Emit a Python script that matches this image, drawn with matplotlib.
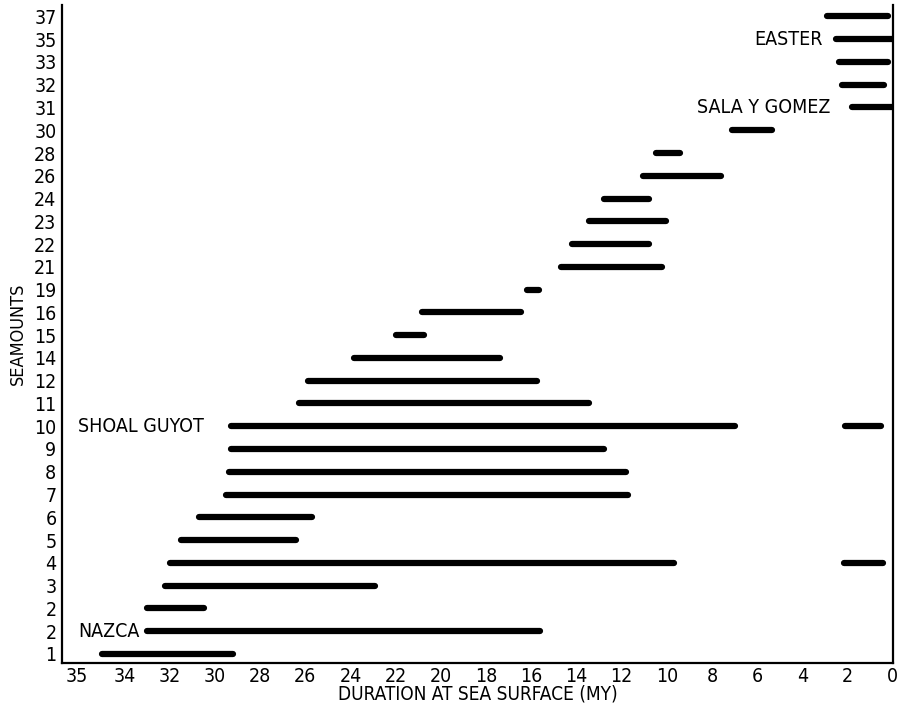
import matplotlib

matplotlib.use("Agg")
import matplotlib.pyplot as plt
import numpy as np

# seamount rows, bottom to top
SEAMOUNTS = ["1", "2", "2", "3", "4", "5", "6", "7", "8", "9", "10", "11", "12",
             "14", "15", "16", "19", "21", "22", "23", "24", "26", "28", "30",
             "31", "32", "33", "35", "37"]
START_MY = [35.0, 33.0, 33.0, 32.2, 32.0, 31.5, 30.7, 29.5, 29.4, 29.3, 29.3,
            26.3, 25.9, 23.85, 22.0, 20.85, 16.2, 14.7, 14.2, 13.45, 12.8,
            11.05, 10.5, 7.1, 1.8, 2.25, 2.4, 2.5, 2.9]
END_MY = [29.2, 15.6, 30.5, 22.9, 9.7, 26.4, 25.7, 11.7, 11.8, 12.8, 7.0,
          13.45, 15.75, 17.4, 20.75, 16.45, 15.65, 10.2, 10.8, 10.05, 10.8,
          7.6, 9.4, 5.35, 0.0, 0.4, 0.2, 0.0, 0.2]

# second episodes (row index into SEAMOUNTS)
EXTRA_ROW = [4, 10]
EXTRA_START = [2.15, 2.1]
EXTRA_END = [0.45, 0.5]

TICK_POS = [36.1, 34, 32, 30, 28, 26, 24, 22, 20, 18, 16, 14, 12, 10, 8, 6, 4, 2, 0]
TICK_LABELS = ["35", "34", "32", "30", "28", "26", "24", "22", "20", "18", "16",
               "14", "12", "10", "8", "6", "4", "2", "0"]

NAMES = [("NAZCA", 1, 36.05, "left"), ("SHOAL GUYOT", 10, 36.05, "left"),
         ("SALA Y GOMEZ", 24, 2.75, "right"), ("EASTER", 27, 3.1, "right")]

plt.rcParams["font.family"] = ["DejaVu Sans"]
plt.rcParams["font.stretch"] = "condensed"

fig = plt.figure(figsize=(9.05, 7.09), dpi=100)
ax = fig.add_axes([0.0685, 0.0649, 0.918, 0.928])

rows = np.arange(len(SEAMOUNTS))
ax.hlines(rows, START_MY, END_MY, colors="black", linewidth=4.5, capstyle="round")
ax.hlines(EXTRA_ROW, EXTRA_START, EXTRA_END, colors="black", linewidth=4.5,
          capstyle="round")

for name, row, x, ha in NAMES:
    ax.text(x, row, name, ha=ha, va="center", fontsize=14)

ax.set_xlim(36.77, 0)
ax.set_ylim(-0.4, 28.5)
ax.set_yticks(rows)
ax.set_yticklabels(SEAMOUNTS)
ax.set_xticks(TICK_POS)
ax.set_xticklabels(TICK_LABELS)
ax.tick_params(length=0, labelsize=14)
ax.tick_params(axis="y", pad=4)
ax.tick_params(axis="x", pad=3)
ax.spines["top"].set_visible(False)
for s in ["left", "right", "bottom"]:
    ax.spines[s].set_linewidth(1.6)

ax.set_xlabel("DURATION AT SEA SURFACE (MY)", fontsize=13.7, labelpad=-1)
ax.set_ylabel("SEAMOUNTS", fontsize=13, labelpad=5)

fig.savefig("out.png", dpi=100)
